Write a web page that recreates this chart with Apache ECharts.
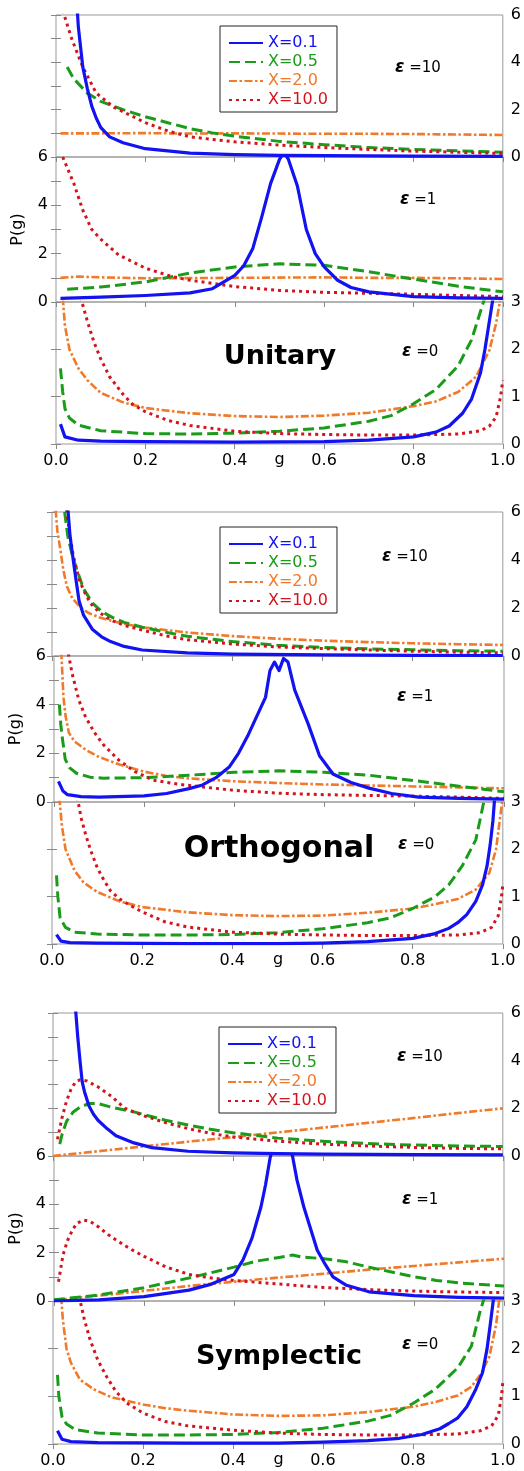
<!DOCTYPE html>
<html>
<head>
<meta charset="utf-8">
<script src="https://cdn.jsdelivr.net/npm/echarts@6/dist/echarts.min.js"></script>
<style>
html,body{margin:0;padding:0;background:#fff;}
#chart{width:524px;height:1471px;}
</style>
</head>
<body>
<div id="chart"></div>
<script>
// ---------- labels ----------
const seriesNames = ['X=0.1', 'X=0.5', 'X=2.0', 'X=10.0'];
const panelNames = ['Unitary', 'Orthogonal', 'Symplectic'];
const epsNames = ['10', '1', '0'];
const xTickLabels = ['0.0', '0.2', '0.4', '0.6', '0.8', '1.0'];
const yName = 'P(g)';
const xName = 'g';

// ---------- Unitary ----------
const u10_x01 = [[0.045,7],[0.05,5.5],[0.06,3.8],[0.07,2.9],[0.08,2.15],[0.09,1.65],[0.1,1.25],[0.12,0.85],[0.15,0.6],[0.2,0.35],[0.3,0.16],[0.4,0.1],[0.5,0.07],[0.6,0.06],[0.8,0.04],[1.0,0.03]];
const u10_x05 = [[0.025,3.8],[0.04,3.3],[0.07,2.7],[0.1,2.35],[0.15,2.0],[0.2,1.7],[0.25,1.45],[0.3,1.2],[0.35,1.02],[0.4,0.88],[0.5,0.66],[0.6,0.52],[0.7,0.4],[0.8,0.32],[0.9,0.26],[1.0,0.2]];
const u10_x20 = [[0.01,1.0],[0.1,1.0],[0.2,1.01],[0.3,0.99],[0.4,1.0],[0.5,0.99],[0.6,0.98],[0.7,0.98],[0.8,0.97],[0.9,0.95],[1.0,0.93]];
const u10_x10 = [[0.015,6.2],[0.035,5.0],[0.06,3.8],[0.09,2.7],[0.13,2.1],[0.2,1.45],[0.25,1.1],[0.3,0.85],[0.4,0.64],[0.5,0.5],[0.6,0.4],[0.7,0.32],[0.8,0.25],[0.9,0.2],[1.0,0.15]];

const u1_x01 = [[0.01,0.15],[0.1,0.2],[0.2,0.27],[0.3,0.38],[0.35,0.55],[0.4,1.1],[0.42,1.5],[0.44,2.2],[0.46,3.5],[0.48,4.9],[0.5,5.9],[0.51,6.2],[0.52,5.9],[0.54,4.8],[0.56,3.0],[0.58,2.0],[0.6,1.45],[0.63,0.9],[0.66,0.6],[0.7,0.42],[0.8,0.22],[0.9,0.17],[1.0,0.15]];
const u1_x05 = [[0.025,0.53],[0.1,0.62],[0.2,0.83],[0.3,1.2],[0.4,1.45],[0.5,1.58],[0.6,1.52],[0.7,1.25],[0.8,0.95],[0.9,0.65],[1.0,0.42]];
const u1_x20 = [[0.01,1.0],[0.05,1.05],[0.1,1.02],[0.2,0.98],[0.3,0.99],[0.4,1.0],[0.5,1.01],[0.6,1.02],[0.7,1.0],[0.8,1.0],[0.9,0.98],[1.0,0.95]];
const u1_x10 = [[0.015,6.0],[0.04,4.9],[0.06,3.8],[0.08,3.0],[0.1,2.6],[0.14,1.95],[0.2,1.4],[0.26,1.05],[0.3,0.9],[0.4,0.64],[0.5,0.48],[0.6,0.4],[0.7,0.36],[0.8,0.32],[0.9,0.27],[1.0,0.22]];

const u0_x01 = [[0.01,0.42],[0.02,0.15],[0.05,0.08],[0.1,0.06],[0.2,0.05],[0.4,0.04],[0.6,0.05],[0.7,0.08],[0.8,0.15],[0.85,0.25],[0.88,0.38],[0.91,0.65],[0.93,0.95],[0.95,1.5],[0.96,2.0],[0.97,2.6],[0.98,3.2]];
const u0_x05 = [[0.01,1.6],[0.015,1.1],[0.02,0.75],[0.03,0.55],[0.05,0.4],[0.1,0.28],[0.2,0.22],[0.3,0.21],[0.4,0.23],[0.5,0.27],[0.6,0.34],[0.7,0.48],[0.75,0.6],[0.8,0.85],[0.85,1.15],[0.9,1.65],[0.93,2.2],[0.95,2.8],[0.96,3.1]];
const u0_x20 = [[0.015,3.1],[0.02,2.5],[0.03,2.0],[0.05,1.6],[0.07,1.35],[0.1,1.08],[0.15,0.88],[0.2,0.76],[0.3,0.65],[0.4,0.59],[0.5,0.57],[0.6,0.6],[0.7,0.66],[0.8,0.8],[0.85,0.9],[0.9,1.1],[0.94,1.42],[0.97,1.98],[0.985,2.55],[0.995,3.1]];
const u0_x10 = [[0.055,3.1],[0.07,2.6],[0.085,2.15],[0.1,1.8],[0.12,1.42],[0.15,1.05],[0.17,0.85],[0.2,0.68],[0.25,0.5],[0.3,0.39],[0.4,0.27],[0.5,0.22],[0.6,0.2],[0.7,0.19],[0.8,0.19],[0.9,0.21],[0.95,0.28],[0.97,0.38],[0.985,0.57],[0.995,1.0],[1.0,1.35]];

// ---------- Orthogonal ----------
const o10_x01 = [[0.035,6.2],[0.04,5.0],[0.05,3.6],[0.06,2.3],[0.07,1.7],[0.09,1.1],[0.11,0.8],[0.13,0.6],[0.16,0.4],[0.2,0.25],[0.3,0.13],[0.4,0.08],[0.6,0.05],[0.8,0.03],[1.0,0.02]];
const o10_x05 = [[0.028,6.0],[0.035,5.0],[0.045,4.2],[0.055,3.6],[0.07,2.8],[0.09,2.2],[0.11,1.85],[0.135,1.6],[0.16,1.4],[0.2,1.2],[0.25,1.0],[0.3,0.82],[0.4,0.6],[0.5,0.45],[0.6,0.36],[0.7,0.3],[0.8,0.26],[0.9,0.22],[1.0,0.2]];
const o10_x20 = [[0.008,6.1],[0.012,5.2],[0.018,4.5],[0.025,3.6],[0.033,2.9],[0.045,2.4],[0.062,2.05],[0.08,1.8],[0.106,1.6],[0.15,1.38],[0.2,1.2],[0.3,0.98],[0.4,0.83],[0.5,0.72],[0.6,0.64],[0.7,0.58],[0.8,0.53],[0.9,0.49],[1.0,0.46]];
const o10_x10 = [[0.032,6.1],[0.04,5.0],[0.047,4.2],[0.06,3.2],[0.07,2.75],[0.085,2.2],[0.106,1.8],[0.13,1.5],[0.16,1.28],[0.2,1.08],[0.25,0.85],[0.3,0.68],[0.4,0.5],[0.5,0.38],[0.6,0.31],[0.7,0.25],[0.8,0.2],[0.9,0.16],[1.0,0.13]];

const o1_x01 = [[0.01,0.85],[0.02,0.45],[0.03,0.3],[0.06,0.22],[0.1,0.2],[0.2,0.25],[0.25,0.35],[0.3,0.55],[0.33,0.7],[0.36,1.0],[0.39,1.45],[0.41,2.0],[0.43,2.7],[0.45,3.5],[0.47,4.3],[0.48,5.4],[0.49,5.75],[0.5,5.4],[0.51,5.9],[0.52,5.75],[0.535,4.6],[0.55,3.9],[0.565,3.2],[0.59,1.9],[0.62,1.15],[0.66,0.8],[0.7,0.57],[0.75,0.35],[0.81,0.2],[0.9,0.15],[1.0,0.12]];
const o1_x05 = [[0.012,4.0],[0.015,3.2],[0.018,2.7],[0.025,1.75],[0.035,1.4],[0.05,1.18],[0.08,1.02],[0.11,0.98],[0.2,1.0],[0.3,1.1],[0.4,1.22],[0.5,1.28],[0.6,1.22],[0.7,1.1],[0.8,0.88],[0.9,0.65],[1.0,0.42]];
const o1_x20 = [[0.016,6.2],[0.018,5.5],[0.021,4.3],[0.026,3.5],[0.033,2.85],[0.045,2.5],[0.07,2.15],[0.1,1.85],[0.144,1.55],[0.2,1.25],[0.25,1.07],[0.3,0.97],[0.4,0.85],[0.5,0.78],[0.6,0.72],[0.7,0.68],[0.8,0.64],[0.9,0.6],[1.0,0.56]];
const o1_x10 = [[0.032,6.1],[0.04,5.3],[0.055,4.2],[0.07,3.5],[0.09,2.85],[0.11,2.35],[0.144,1.72],[0.18,1.25],[0.22,0.9],[0.28,0.72],[0.33,0.62],[0.4,0.48],[0.5,0.36],[0.6,0.3],[0.7,0.27],[0.8,0.24],[0.9,0.2],[1.0,0.15]];

const o0_x01 = [[0.01,0.2],[0.02,0.06],[0.04,0.03],[0.1,0.02],[0.3,0.01],[0.5,0.01],[0.6,0.02],[0.7,0.05],[0.8,0.12],[0.85,0.22],[0.88,0.33],[0.9,0.45],[0.92,0.62],[0.94,0.9],[0.955,1.25],[0.965,1.65],[0.972,2.1],[0.978,2.6],[0.982,3.1]];
const o0_x05 = [[0.01,1.45],[0.013,1.0],[0.018,0.55],[0.03,0.35],[0.05,0.25],[0.1,0.21],[0.2,0.19],[0.3,0.19],[0.4,0.2],[0.5,0.24],[0.6,0.32],[0.7,0.45],[0.75,0.55],[0.8,0.75],[0.85,1.0],[0.88,1.25],[0.91,1.65],[0.94,2.2],[0.96,3.1]];
const o0_x20 = [[0.016,3.1],[0.022,2.5],[0.03,2.0],[0.05,1.55],[0.07,1.3],[0.1,1.1],[0.15,0.9],[0.2,0.78],[0.3,0.67],[0.4,0.61],[0.5,0.59],[0.6,0.6],[0.7,0.66],[0.8,0.75],[0.85,0.84],[0.9,0.95],[0.94,1.15],[0.97,1.5],[0.985,2.0],[0.993,2.6],[1.0,3.1]];
const o0_x10 = [[0.056,3.1],[0.065,2.65],[0.075,2.3],[0.085,2.0],[0.1,1.62],[0.115,1.35],[0.13,1.12],[0.15,0.95],[0.18,0.78],[0.2,0.68],[0.25,0.47],[0.3,0.36],[0.4,0.25],[0.5,0.21],[0.6,0.19],[0.7,0.18],[0.8,0.18],[0.9,0.19],[0.95,0.24],[0.975,0.35],[0.99,0.6],[0.997,1.0],[1.0,1.25]];

// ---------- Symplectic ----------
const s10_x01 = [[0.05,6.2],[0.055,5.0],[0.06,4.0],[0.065,3.1],[0.07,2.7],[0.08,2.1],[0.09,1.75],[0.1,1.5],[0.12,1.15],[0.14,0.85],[0.18,0.55],[0.22,0.35],[0.3,0.2],[0.4,0.13],[0.5,0.1],[0.6,0.08],[0.8,0.06],[1.0,0.05]];
const s10_x05 = [[0.015,0.5],[0.02,0.9],[0.03,1.45],[0.045,1.85],[0.06,2.05],[0.08,2.2],[0.1,2.2],[0.13,2.05],[0.18,1.85],[0.25,1.5],[0.3,1.3],[0.35,1.12],[0.4,0.98],[0.5,0.75],[0.6,0.62],[0.7,0.52],[0.8,0.46],[0.9,0.42],[1.0,0.4]];
const s10_x20 = [[0.0,0.0],[0.1,0.2],[0.2,0.4],[0.3,0.6],[0.4,0.79],[0.5,0.99],[0.6,1.19],[0.7,1.39],[0.8,1.59],[0.9,1.8],[1.0,2.0]];
const s10_x10 = [[0.01,0.7],[0.02,1.6],[0.03,2.3],[0.04,2.8],[0.05,3.1],[0.06,3.2],[0.075,3.15],[0.1,2.9],[0.13,2.5],[0.16,2.0],[0.2,1.7],[0.25,1.4],[0.3,1.15],[0.35,0.95],[0.4,0.8],[0.5,0.62],[0.6,0.5],[0.7,0.42],[0.8,0.36],[0.9,0.32],[1.0,0.3]];

const s1_x01 = [[0.0,0.0],[0.1,0.05],[0.2,0.18],[0.3,0.45],[0.35,0.7],[0.4,1.1],[0.42,1.7],[0.44,2.6],[0.46,3.9],[0.47,4.8],[0.48,5.9],[0.49,6.6],[0.5,7],[0.52,6.6],[0.53,6.0],[0.54,5.0],[0.555,3.9],[0.57,3.0],[0.585,2.1],[0.6,1.6],[0.62,1.0],[0.65,0.65],[0.7,0.38],[0.8,0.22],[0.9,0.15],[1.0,0.12]];
const s1_x05 = [[0.0,0.05],[0.1,0.25],[0.2,0.55],[0.3,0.95],[0.4,1.4],[0.45,1.65],[0.5,1.8],[0.53,1.9],[0.55,1.82],[0.6,1.75],[0.65,1.62],[0.7,1.4],[0.75,1.2],[0.8,1.0],[0.85,0.85],[0.9,0.75],[0.95,0.68],[1.0,0.62]];
const s1_x20 = [[0.0,0.03],[0.1,0.22],[0.2,0.42],[0.3,0.62],[0.4,0.8],[0.5,0.97],[0.6,1.13],[0.7,1.3],[0.8,1.45],[0.9,1.6],[1.0,1.75]];
const s1_x10 = [[0.01,0.8],[0.02,1.9],[0.03,2.5],[0.04,2.9],[0.05,3.2],[0.065,3.35],[0.08,3.3],[0.1,3.05],[0.12,2.75],[0.14,2.5],[0.17,2.15],[0.2,1.85],[0.25,1.4],[0.3,1.1],[0.35,0.95],[0.4,0.85],[0.5,0.7],[0.6,0.56],[0.7,0.47],[0.8,0.41],[0.9,0.37],[1.0,0.35]];

const s0_x01 = [[0.01,0.28],[0.02,0.1],[0.04,0.05],[0.1,0.03],[0.3,0.02],[0.5,0.02],[0.6,0.04],[0.7,0.07],[0.77,0.12],[0.82,0.2],[0.86,0.32],[0.88,0.43],[0.9,0.55],[0.92,0.78],[0.94,1.15],[0.955,1.5],[0.965,2.0],[0.972,2.5],[0.98,3.1]];
const s0_x05 = [[0.01,1.45],[0.013,1.0],[0.02,0.57],[0.03,0.42],[0.05,0.3],[0.1,0.23],[0.2,0.19],[0.3,0.19],[0.4,0.2],[0.5,0.24],[0.6,0.33],[0.7,0.48],[0.75,0.6],[0.8,0.85],[0.85,1.15],[0.9,1.6],[0.93,2.05],[0.95,2.8],[0.96,3.1]];
const s0_x20 = [[0.018,3.1],[0.022,2.6],[0.03,2.0],[0.04,1.7],[0.06,1.35],[0.09,1.15],[0.13,0.98],[0.2,0.83],[0.25,0.75],[0.3,0.7],[0.4,0.62],[0.5,0.59],[0.6,0.6],[0.7,0.67],[0.8,0.78],[0.85,0.88],[0.9,1.02],[0.93,1.2],[0.95,1.45],[0.97,1.83],[0.985,2.5],[0.993,3.1]];
const s0_x10 = [[0.058,3.1],[0.07,2.6],[0.082,2.2],[0.1,1.75],[0.12,1.4],[0.14,1.1],[0.164,0.86],[0.2,0.65],[0.25,0.47],[0.3,0.38],[0.4,0.29],[0.5,0.23],[0.6,0.2],[0.7,0.19],[0.8,0.19],[0.9,0.21],[0.95,0.28],[0.975,0.38],[0.99,0.6],[0.997,1.0],[1.0,1.3]];

// ---------- assembly ----------
const panelData = [
  [[u10_x01,u10_x05,u10_x20,u10_x10],[u1_x01,u1_x05,u1_x20,u1_x10],[u0_x01,u0_x05,u0_x20,u0_x10]],
  [[o10_x01,o10_x05,o10_x20,o10_x10],[o1_x01,o1_x05,o1_x20,o1_x10],[o0_x01,o0_x05,o0_x20,o0_x10]],
  [[s10_x01,s10_x05,s10_x20,s10_x10],[s1_x01,s1_x05,s1_x20,s1_x10],[s0_x01,s0_x05,s0_x20,s0_x10]]
];

const styles = [
  {color:'#1212f2', width:3.2, type:'solid', z:5},
  {color:'#1a9c1a', width:3, type:[11,5], z:3},
  {color:'#f07a2a', width:2.6, type:[8,2.5,2.5,2.5], z:2},
  {color:'#d4141c', width:3, type:[3,4], z:4}
];

const layout = [
  {left:56, width:447, tops:[15,157,302], heights:[142,145,142], legend:[220,26], eps:[[395,68],[400,200],[402,352]], title:[280,357,27]},
  {left:52, width:452, tops:[512,656,802], heights:[144,146,142], legend:[220,527], eps:[[382,557],[397,697],[398,845]], title:[279,849,30]},
  {left:53, width:451, tops:[1013,1156,1301], heights:[143,145,143], legend:[219,1027], eps:[[397,1057],[402,1200],[402,1345]], title:[279,1357,27]}
];

const FONT = '"DejaVu Sans", "Liberation Sans", sans-serif';
const grids = [], xAxes = [], yAxes = [], series = [], legends = [], graphics = [];

layout.forEach((L, p) => {
  for (let r = 0; r < 3; r++) {
    const gi = grids.length;
    const ymax = r === 2 ? 3 : 6;
    grids.push({left:L.left, width:L.width, top:L.tops[r], height:L.heights[r],
      show:true, borderColor:'#999', borderWidth:1, backgroundColor:'transparent', containLabel:false});
    // bottom x axis
    xAxes.push({gridIndex:gi, type:'value', min:0, max:1, interval:0.2, position:'bottom',
      axisLine:{show:false}, splitLine:{show:false},
      axisTick:{show:false},
      axisLabel:{show:r===2, margin:9, color:'#000', fontSize:16, fontFamily:FONT,
        formatter:(v)=>xTickLabels[Math.round(v*5)], showMinLabel:true, showMaxLabel:true}});
    // top x axis (ticks only)
    xAxes.push({gridIndex:gi, type:'value', min:0, max:1, interval:0.2, position:'top',
      axisLine:{show:false}, splitLine:{show:false}, axisLabel:{show:false},
      axisTick:{show:true, inside:true, length:5, lineStyle:{color:'#888', width:1}}});
    // left y axis
    yAxes.push({gridIndex:gi, type:'value', min:0, max:ymax, interval:1, position:'left',
      axisLine:{show:false}, splitLine:{show:false},
      axisTick:{show:true, inside:true, length:5, lineStyle:{color:'#888', width:1}},
      axisLabel:{show:r===1, margin:8, color:'#000', fontSize:16, fontFamily:FONT,
        formatter:(v)=> (v%2===0 ? String(v) : '')},
      name: r===1 ? yName : '', nameLocation:'middle', nameGap:30,
      nameTextStyle:{color:'#000', fontSize:16, fontFamily:FONT}});
    // right y axis
    yAxes.push({gridIndex:gi, type:'value', min:0, max:ymax, interval:1, position:'right',
      axisLine:{show:false}, splitLine:{show:false},
      axisTick:{show:true, inside:true, length:5, lineStyle:{color:'#888', width:1}},
      axisLabel:{show:r!==1, margin:8, color:'#000', fontSize:16, fontFamily:FONT,
        formatter:(v)=> (r===2 ? String(v) : (v%2===0 ? String(v) : ''))}});
    // series
    const order = [2,1,3,0];
    order.forEach(k => {
      const st = styles[k];
      series.push({type:'line', name:seriesNames[k], xAxisIndex:2*gi, yAxisIndex:2*gi,
        data:panelData[p][r][k], symbol:'none', showSymbol:false, clip:true, z:st.z,
        smooth:false,
        lineStyle:{color:st.color, width:st.width, type:st.type, cap:'butt', join:'round'},
        itemStyle:{color:st.color}, animation:false});
    });
    // epsilon label
    graphics.push({type:'text', x:L.eps[r][0], y:L.eps[r][1], z:100,
      style:{text:'{e|ε} =' + epsNames[r], fill:'#000', font:'15px ' + FONT,
        verticalAlign:'middle', align:'left',
        rich:{e:{fontStyle:'italic', fontWeight:'bold', fontSize:17, fontFamily:FONT, fill:'#000'}}}});
  }
  // x-axis name "g" below the bottom subplot
  const bottomEdge = L.tops[2] + L.heights[2];
  graphics.push({type:'text', x:L.left + L.width/2, y:bottomEdge + 8, z:100,
    style:{text:xName, fill:'#000', font:'16px ' + FONT, align:'center', verticalAlign:'top'}});
  legends.push({orient:'vertical', left:L.legend[0], top:L.legend[1],
    data: seriesNames.map((n,k)=>({name:n, textStyle:{color:styles[k].color}})),
    itemWidth:34, itemHeight:12, itemGap:3, selectedMode:false,
    itemStyle:{opacity:0},
    backgroundColor:'#fff', borderColor:'#222', borderWidth:1, padding:[9,9,4,8],
    textStyle:{fontFamily:FONT, fontSize:16}, z:50});
  graphics.push({type:'text', x:L.title[0], y:L.title[1], z:100,
    style:{text:panelNames[p], fill:'#000', font:'bold ' + L.title[2] + 'px ' + FONT,
      align:'center', verticalAlign:'middle'}});
});

const chart = echarts.init(document.getElementById('chart'), null, {renderer:'canvas'});
chart.setOption({
  animation:false,
  backgroundColor:'#fff',
  grid:grids, xAxis:xAxes, yAxis:yAxes, series:series, legend:legends, graphic:graphics
});
</script>
</body>
</html>
